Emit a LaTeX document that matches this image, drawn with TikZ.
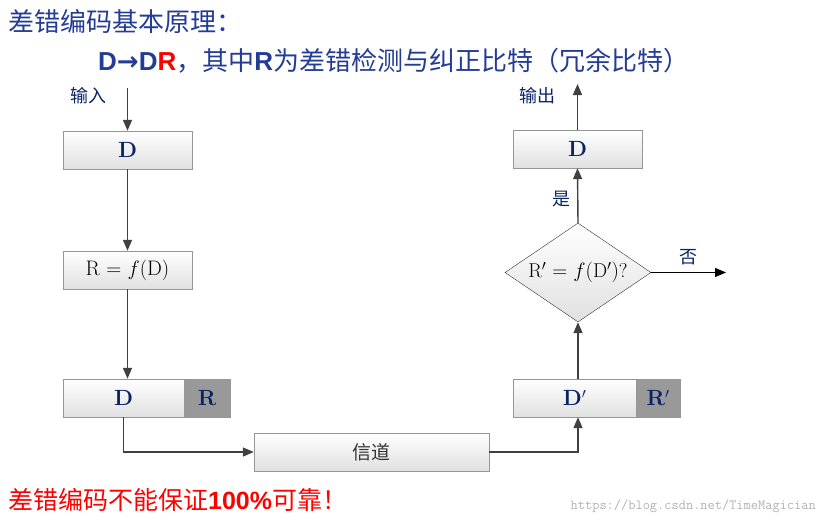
\documentclass[tikz,border=0pt]{standalone}
\usepackage{fontspec}
\usetikzlibrary{shapes.geometric,arrows.meta}
\newfontfamily\cjk{Noto Sans CJK SC}
\newfontfamily\lsans{Liberation Sans}
\newfontfamily\dejav{DejaVu Sans}
\definecolor{ttl}{RGB}{35,60,150}
\definecolor{bxt}{RGB}{10,35,100}
\definecolor{edge}{RGB}{150,150,150}
\tikzset{
 bx/.style={draw=edge,top color=white,bottom color=black!12,minimum height=38pt,inner sep=0pt,text=bxt,font=\bfseries\fontsize{22}{24}\selectfont},
 gbx/.style={draw=edge,fill=black!40,minimum height=38pt,inner sep=0pt,text=bxt,font=\bfseries\fontsize{22}{24}\selectfont},
 arr/.style={draw=black!75,line width=1.4pt,-{Triangle[length=11pt,width=9pt]}},
 lbl/.style={font=\cjk\fontsize{18}{20}\selectfont,text=bxt},
}
\begin{document}
\begin{tikzpicture}[x=1pt,y=-1pt]
\useasboundingbox (0,0) rectangle (827,525);
\node[anchor=west,text=ttl,font=\cjk\fontsize{26}{28}\selectfont,inner sep=0pt] (t1) at (8,22) {差错编码基本原理：};
\node[anchor=west,text=ttl,font=\cjk\fontsize{26}{28}\selectfont,inner sep=0pt] (t2) at (98,61) {{\lsans\bfseries D{\dejav\bfseries →}D\textcolor{red}{R}}，其中{\lsans\bfseries R}为差错检测与纠正比特（冗余比特）};
\node[lbl] (in) at (88,96) {输入};
\node[lbl] (out) at (537,96) {输出};
\coordinate (inTop) at (127.5,88);
\coordinate (outTop) at (577.5,84);
\node[bx,minimum width=129pt] (d1) at (127.5,150) {D};
\node[bx,minimum width=129pt,font=\fontsize{21}{23}\selectfont,text=black] (rf) at (127.5,270) {R $=$ $f\big($D$\big)$};
\node[bx,minimum width=121pt] (dr) at (123.5,398) {D};
\node[gbx,minimum width=46pt] (rr) at (207,398) {R};
\node[bx,minimum width=235pt,font=\cjk\fontsize{19}{21}\selectfont,text=black!80] (ch) at (371.5,452) {信道};
\node[bx,minimum width=123pt] (dp) at (574.5,398) {D$'$};
\node[gbx,minimum width=44pt] (rp) at (658,398) {R$'$};
\node[diamond,draw=black!80,top color=white,bottom color=black!12,minimum width=146pt,minimum height=99pt,inner sep=0pt,font=\fontsize{20}{22}\selectfont,aspect=1.47] (dm) at (578,272.5) {R$'$ $=$ $f\big($D$'\big)$?};
\node[bx,minimum width=129pt] (d2) at (577.5,149) {D};
\node[lbl] (yes) at (561,199) {是};
\node[lbl] (no) at (688,257) {否};
\coordinate (noEnd) at (726,272.5);
\draw[arr] (inTop) -- (d1);
\draw[arr] (d1) -- (rf);
\draw[arr] (rf) -- (rf|-dr.north);
\draw[arr] (dr.south) |- (ch.west);
\draw[arr] (ch.east) -| (dp.south-|dm);
\draw[arr] (dp.north-|dm) -- (dm.south);
\draw[arr] (dm.north) -- (d2.south);
\draw[arr] (d2.north) -- (outTop);
\draw[line width=1.4pt,-{Triangle[length=11pt,width=9pt]}] (dm.east) -- (noEnd);
\node[anchor=west,text=red,font=\cjk\fontsize{25}{27}\selectfont,inner sep=0pt] (bot) at (8,500) {差错编码不能保证{\lsans\bfseries 100\%}可靠！};
\node[anchor=east,text=black!30,font=\ttfamily\fontsize{14}{15}\selectfont,inner sep=0pt] (wm) at (816,506) {https://blog.csdn.net/TimeMagician};
\end{tikzpicture}
\end{document}
